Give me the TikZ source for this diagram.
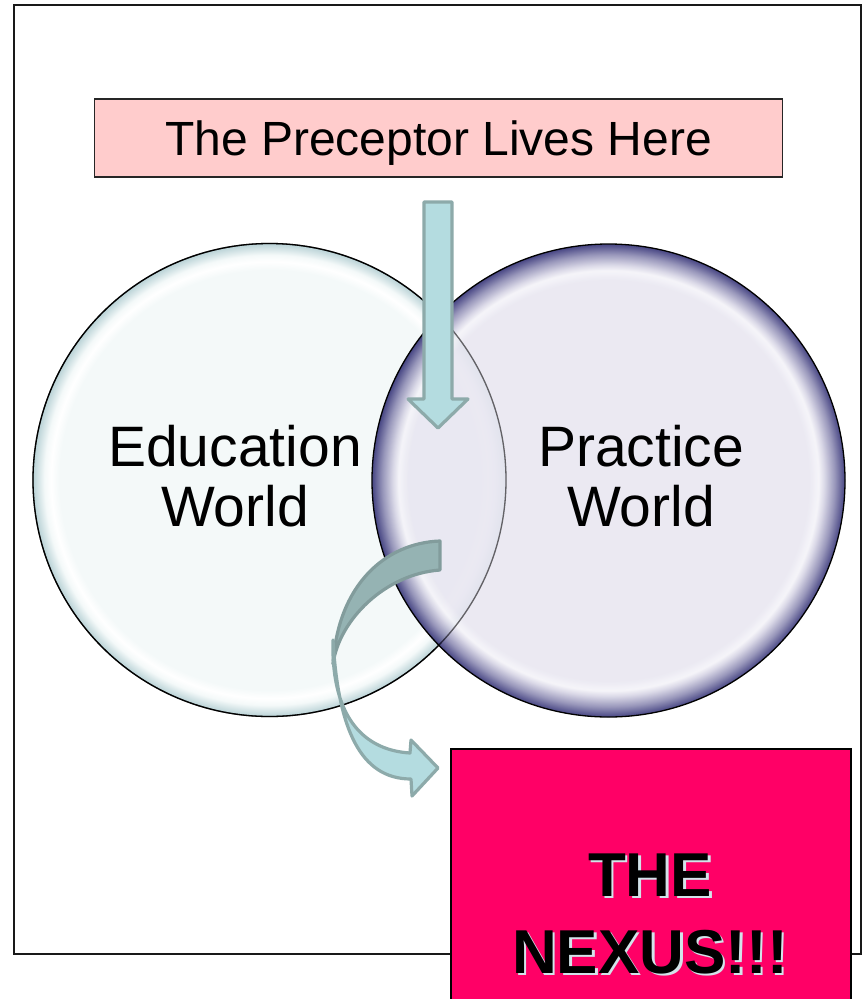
\documentclass[tikz,border=0pt]{standalone}
\usepackage{fontspec}
\setmainfont{Liberation Sans}
\definecolor{eduin}{HTML}{F4F9F9}
\definecolor{edurim}{HTML}{B9D2D6}
\definecolor{pracin}{HTML}{E8E6F1}
\definecolor{pracrim}{HTML}{2A2870}
\definecolor{arrowfill}{HTML}{B4DCE0}
\definecolor{arrowline}{HTML}{8DAAAA}
\definecolor{arrowback}{HTML}{95B3B3}
\definecolor{boxpink}{HTML}{FFCCCC}
\definecolor{nexuspink}{HTML}{FF0066}
\definecolor{glow}{HTML}{D3E3EA}
\pgfdeclareradialshading{edushade}{\pgfpoint{0bp}{0bp}}{color(0bp)=(eduin); color(22.2bp)=(eduin); color(23.1bp)=(white); color(23.8bp)=(eduin); color(25bp)=(edurim); color(50bp)=(edurim)}
\pgfdeclareradialshading{pracshade}{\pgfpoint{0bp}{0bp}}{color(0bp)=(pracin); color(21.2bp)=(pracin); color(22.2bp)=(white!55!pracin); color(22.8bp)=(pracin!90!pracrim); color(23.9bp)=(pracin!50!pracrim); color(25bp)=(pracrim); color(50bp)=(pracrim)}
\tikzset{
  world/.style={circle, inner sep=0pt, minimum size=473, draw=black, line width=1.3},
  worldtext/.style={font=\fontsize{57}{60}\selectfont, align=center, inner sep=0pt},
  blockarrow/.style={fill=arrowfill, draw=arrowline, line width=3.2, line join=round},
  backarrow/.style={fill=arrowback, draw=arrowline!92!black, line width=3.2, line join=round},
  nexustext/.style={font=\bfseries\fontsize{62}{77}\selectfont, align=center, inner sep=0pt}
}
\begin{document}
\begin{tikzpicture}[x=1pt,y=-1pt]
\useasboundingbox (0,0) rectangle (864,999);
\fill[white] (0,0) rectangle (864,999);
% outer frame
\draw[line width=2, black!90] (14,5) rectangle (861,954);
% top box
\node[draw=black!85, line width=1.5, fill=boxpink, minimum width=688, minimum height=78,
      inner sep=0pt, font=\fontsize{48}{58}\selectfont, text height=35pt, text depth=1pt]
      (preceptor) at (438.5,138) {The Preceptor Lives Here};
% circles
\node[world, shading=edushade] (edu) at (269.5,480) {};
\node[world, shading=pracshade, fill opacity=0.86, draw opacity=1] (prac) at (608.5,480.5) {};
% left circle outline seen through the right one
\draw[black, draw opacity=0.5, line width=1.3] (edu.center) circle[radius=236.5];
\node[worldtext] (edutext) at (235,476.5) {Education\\World};
\node[worldtext] (practext) at (641,476.5) {Practice\\World};
% straight down arrow
\path[blockarrow] (424,202) -- (452,202) -- (452,399) -- (468,399) -- (438,428)
      -- (408,399) -- (424,399) -- cycle;
% curved arrow: back part
\path[backarrow] (440,541) .. controls (385,543) and (338,585) .. (333,664)
      .. controls (339,620) and (385,574) .. (440,570) -- cycle;
% curved arrow: front part
\path[blockarrow] (333,640) .. controls (331,715) and (362,750) .. (410,753)
      -- (411,740) -- (438,768) -- (412,796) -- (411,779)
      .. controls (360,779) and (338,728) .. (333,640) -- cycle;
% nexus box
\node[draw=black, line width=2, fill=nexuspink, anchor=north west, minimum width=400,
      minimum height=280, inner sep=0pt] (nexusbox) at (450,748) {};
\node[nexustext, text=glow] (nexusglow) at (652.5,916) {THE\\NEXUS!!!};
\node[nexustext, text=black] (nexus) at (650,913.5) {THE\\NEXUS!!!};
\end{tikzpicture}
\end{document}
